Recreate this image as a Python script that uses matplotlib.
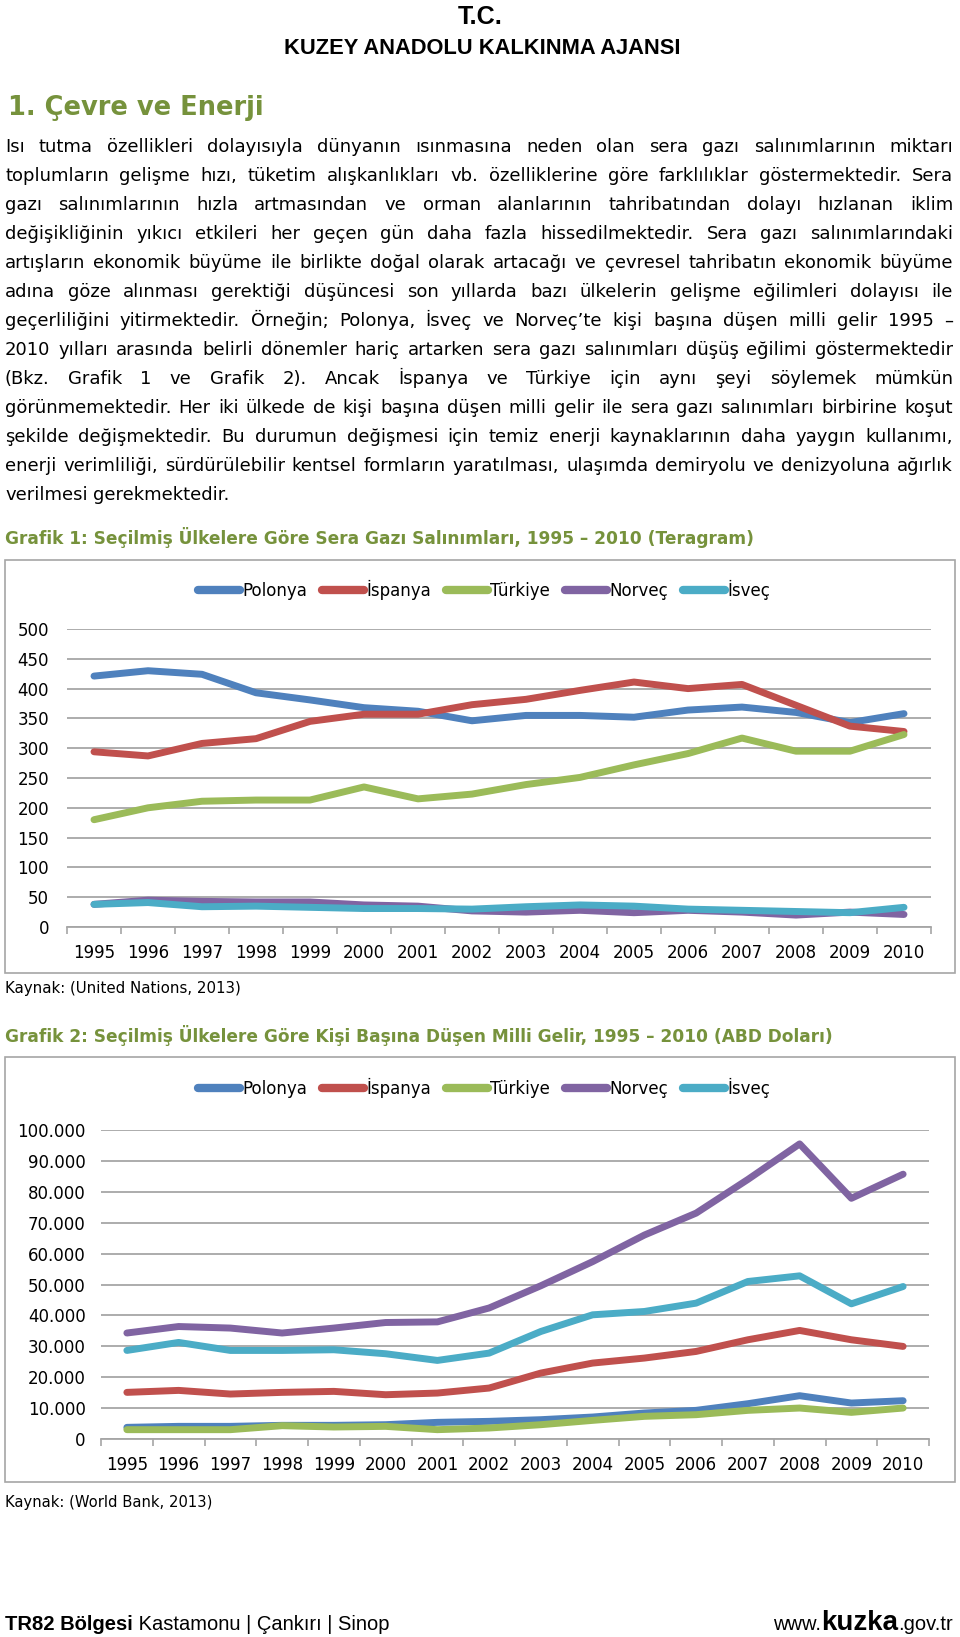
import matplotlib
matplotlib.use('Agg')
import matplotlib.pyplot as plt
from matplotlib.patches import Rectangle
from matplotlib.ticker import FuncFormatter

W, H = 960, 1637

years = [str(y) for y in range(1995, 2011)]
countries = ['Polonya', 'İspanya', 'Türkiye', 'Norveç', 'İsveç']
colors = ['#4F81BD', '#C0504D', '#9BBB59', '#8064A2', '#4BACC6']

# Grafik 1: sera gazi salinimlari (Teragram)
ghg_polonya = [421, 430, 424, 393, 381, 368, 362, 346, 355, 355, 352, 364, 369, 360, 343, 358]
ghg_ispanya = [294, 287, 308, 316, 345, 357, 357, 373, 382, 397, 411, 400, 407, 372, 337, 328]
ghg_turkiye = [180, 200, 211, 213, 213, 235, 215, 223, 239, 251, 272, 291, 317, 295, 295, 323]
ghg_norvec = [38, 45, 43, 42, 42, 37, 35, 27, 25, 28, 24, 28, 25, 20, 25, 21]
ghg_isvec = [38, 41, 34, 35, 33, 31, 31, 30, 34, 37, 35, 30, 28, 26, 24, 33]

# Grafik 2: kisi basina milli gelir (ABD dolari)
gni_polonya = [3770, 4090, 4090, 4420, 4420, 4630, 5390, 5710, 6250, 7110, 8410, 9270, 11420, 14010, 11640, 12390]
gni_ispanya = [15090, 15730, 14550, 15090, 15410, 14330, 14870, 16490, 21340, 24570, 26190, 28340, 32110, 35130, 32110, 29960]
gni_turkiye = [3020, 3020, 3020, 4310, 3880, 4090, 3020, 3560, 4630, 6030, 7330, 7870, 9270, 10020, 8620, 10020]
gni_norvec = [34300, 36400, 35900, 34300, 35900, 37700, 37900, 42400, 49600, 57400, 66000, 73100, 84000, 95500, 77900, 85700]
gni_isvec = [28660, 31250, 28660, 28660, 28880, 27590, 25430, 27800, 34800, 40190, 41270, 43970, 50970, 52800, 43750, 49350]

body_lines = [
    "Isı tutma özellikleri dolayısıyla dünyanın ısınmasına neden olan sera gazı salınımlarının miktarı",
    "toplumların gelişme hızı, tüketim alışkanlıkları vb. özelliklerine göre farklılıklar göstermektedir. Sera",
    "gazı salınımlarının hızla artmasından ve orman alanlarının tahribatından dolayı hızlanan iklim",
    "değişikliğinin yıkıcı etkileri her geçen gün daha fazla hissedilmektedir. Sera gazı salınımlarındaki",
    "artışların ekonomik büyüme ile birlikte doğal olarak artacağı ve çevresel tahribatın ekonomik büyüme",
    "adına göze alınması gerektiği düşüncesi son yıllarda bazı ülkelerin gelişme eğilimleri dolayısı ile",
    "geçerliliğini yitirmektedir. Örneğin; Polonya, İsveç ve Norveç’te kişi başına düşen milli gelir 1995 –",
    "2010 yılları arasında belirli dönemler hariç artarken sera gazı salınımları düşüş eğilimi göstermektedir",
    "(Bkz. Grafik 1 ve Grafik 2). Ancak İspanya ve Türkiye için aynı şeyi söylemek mümkün",
    "görünmemektedir. Her iki ülkede de kişi başına düşen milli gelir ile sera gazı salınımları birbirine koşut",
    "şekilde değişmektedir. Bu durumun değişmesi için temiz enerji kaynaklarının daha yaygın kullanımı,",
    "enerji verimliliği, sürdürülebilir kentsel formların yaratılması, ulaşımda demiryolu ve denizyoluna ağırlık",
    "verilmesi gerekmektedir.",
]

GREEN = '#76923C'
GRID = '#A6A6A6'

fig = plt.figure(figsize=(9.6, 16.37), dpi=100)
renderer = fig.canvas.get_renderer()


def fx(px):
    return px / W


def fy(py):
    return 1 - py / H


def text_width(s, **kw):
    t = fig.text(0, 0, s, **kw)
    w = t.get_window_extent(renderer).width
    t.remove()
    return w


def fit_size(s, target, base=12, **kw):
    return base * target / text_width(s, fontsize=base, **kw)


def put_runs(runs, x, y, align='left'):
    # runs: list of (text, kwargs); placed one after another on a baseline
    widths = [text_width(s, **kw) for s, kw in runs]
    if align == 'right':
        x = x - sum(widths)
    for (s, kw), wd in zip(runs, widths):
        fig.text(fx(x), fy(y), s, ha='left', va='baseline', **kw)
        x += wd


# header (narrow bold face, like the original letterhead)
head = dict(family=['Liberation Sans', 'DejaVu Sans'], fontweight='bold')
fig.text(fx(480), fy(17), 'T.C.', ha='center', va='center',
         fontsize=fit_size('T.C.', 44, **head), **head)
fig.text(fx(482), fy(49), 'KUZEY ANADOLU KALKINMA AJANSI', ha='center', va='center',
         fontsize=fit_size('KUZEY ANADOLU KALKINMA AJANSI', 395, **head), **head)
fig.text(fx(8), fy(108), '1. Çevre ve Enerji', ha='left', va='center', color=GREEN,
         fontweight='bold', fontsize=fit_size('1. Çevre ve Enerji', 256, fontweight='bold'))

# justified body text
x0, x1 = 5, 953
widest = max(text_width(l, fontsize=12) for l in body_lines[:-1])
body_size = min(13.0, 12 * (x1 - x0 - 2) / widest)
space = text_width('a a', fontsize=body_size) - text_width('aa', fontsize=body_size)
for i, line in enumerate(body_lines):
    y = 147 + 29 * i + 5
    words = line.split(' ')
    wds = [text_width(w, fontsize=body_size) for w in words]
    if i == len(body_lines) - 1:
        gap = space
    else:
        gap = (x1 - x0 - sum(wds)) / (len(words) - 1)
    x = x0
    for w, wd in zip(words, wds):
        fig.text(fx(x), fy(y), w, ha='left', va='baseline', fontsize=body_size, color='black')
        x += wd + gap


def thousands(v, pos):
    return f'{int(v):,}'.replace(',', '.')


def plain(v, pos):
    return f'{int(v)}'


def draw_chart(title, title_y, title_w, frame, plot, series, ymax, ystep, fmt,
               legend_y, ypad, source, source_y, source_w):
    fig.text(fx(5), fy(title_y), title, ha='left', va='center', color=GREEN,
             fontweight='bold', fontsize=fit_size(title, title_w, fontweight='bold'))
    l, t, r, b = frame
    fig.add_artist(Rectangle((fx(l), fy(b)), (r - l) / W, (b - t) / H,
                             transform=fig.transFigure, fill=False,
                             ec=GRID, lw=1.2))
    pl, pt, pr, pb = plot
    ax = fig.add_axes([fx(pl), fy(pb), (pr - pl) / W, (pb - pt) / H])
    ax.set_facecolor('none')
    for vals, c, name in zip(series, colors, countries):
        ax.plot(range(len(years)), vals, color=c, lw=5, label=name,
                solid_capstyle='round', solid_joinstyle='round', clip_on=False,
                zorder=3)
    ax.set_xlim(-0.5, len(years) - 0.5)
    ax.set_ylim(0, ymax)
    ax.set_yticks(range(0, ymax + 1, ystep))
    ax.yaxis.set_major_formatter(FuncFormatter(fmt))
    ax.grid(axis='y', color=GRID, lw=1.3, zorder=0)
    ax.set_axisbelow(True)
    for s in ['top', 'right', 'left']:
        ax.spines[s].set_visible(False)
    ax.spines['bottom'].set_color(GRID)
    ax.spines['bottom'].set_linewidth(1.3)
    ax.set_xticks(range(len(years)))
    ax.set_xticklabels(years)
    ax.set_xticks([i - 0.5 for i in range(len(years) + 1)], minor=True)
    ax.tick_params(axis='x', which='major', length=0, pad=12, labelsize=12)
    ax.tick_params(axis='x', which='minor', length=5, width=1.2, color=GRID,
                   direction='out')
    ax.tick_params(axis='y', length=0, pad=ypad, labelsize=12)
    leg = ax.legend(loc='center', ncol=5, bbox_to_anchor=(fx(484), fy(legend_y)),
                    bbox_transform=fig.transFigure, frameon=False, fontsize=12,
                    handlelength=2.5, handletextpad=0.15, columnspacing=0.9)
    for h in leg.get_lines():
        h.set_linewidth(6)
        h.set_solid_capstyle('round')
    fig.text(fx(5), fy(source_y), source, ha='left', va='center',
             fontsize=fit_size(source, source_w))
    return ax


draw_chart('Grafik 1: Seçilmiş Ülkelere Göre Sera Gazı Salınımları, 1995 – 2010 (Teragram)',
           537, 746, (5, 560, 955, 973), (67, 629, 931, 927),
           [ghg_polonya, ghg_ispanya, ghg_turkiye, ghg_norvec, ghg_isvec],
           500, 50, plain, 590, 13, 'Kaynak: (United Nations, 2013)', 988, 236)

draw_chart('Grafik 2: Seçilmiş Ülkelere Göre Kişi Başına Düşen Milli Gelir, 1995 – 2010 (ABD Doları)',
           1036, 826, (5, 1057, 955, 1482), (101, 1130, 929, 1439),
           [gni_polonya, gni_ispanya, gni_turkiye, gni_norvec, gni_isvec],
           100000, 10000, thousands, 1088, 11, 'Kaynak: (World Bank, 2013)', 1502, 205)

# footer
foot = dict(family='Liberation Sans', color='black')
put_runs([('TR82 Bölgesi', dict(fontsize=14.5, fontweight='bold', **foot)),
          (' Kastamonu | Çankırı | Sinop', dict(fontsize=14.5, **foot))], 5, 1630)
put_runs([('www.', dict(fontsize=14.5, **foot)),
          ('kuzka', dict(fontsize=20, fontweight='bold', **foot)),
          ('.gov.tr', dict(fontsize=14.5, **foot))], 953, 1630, align='right')

fig.savefig('out.png', dpi=100, facecolor='white')
